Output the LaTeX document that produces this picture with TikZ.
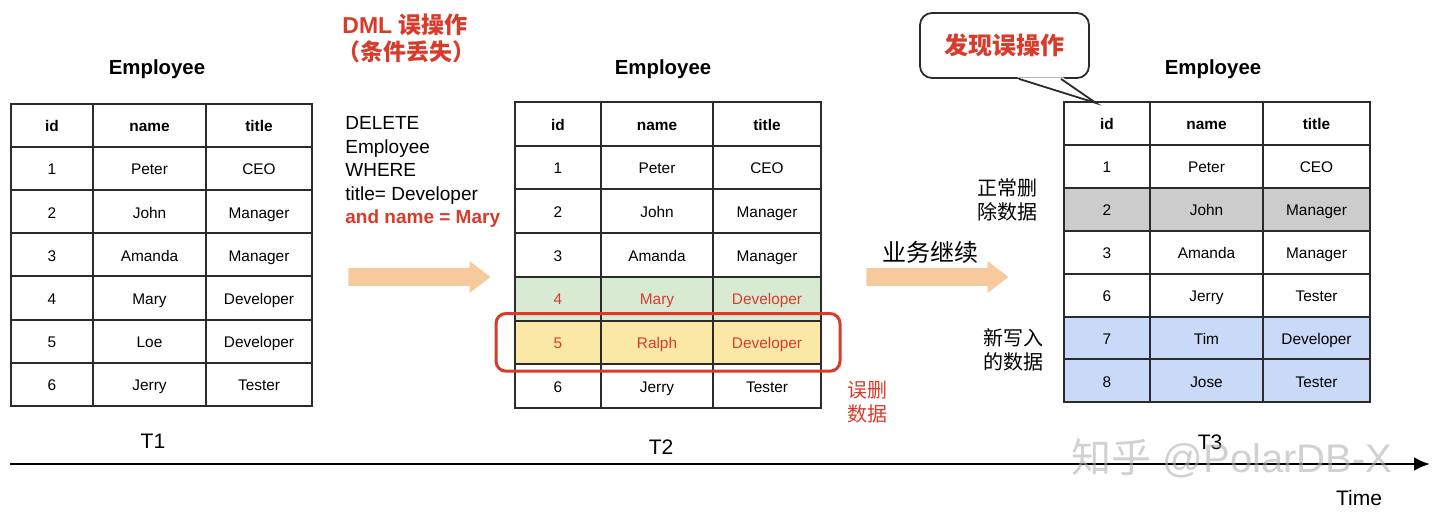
\documentclass[tikz,border=0pt]{standalone}
\usepackage{fontspec}
\setmainfont{Liberation Sans}
\newfontfamily\cjk{Noto Sans CJK SC}
\usetikzlibrary{positioning}
\usetikzlibrary{fit}
\usetikzlibrary{calc}
\usetikzlibrary{shapes.arrows}
\usetikzlibrary{arrows.meta}
\definecolor{errred}{HTML}{D93B2B}
\definecolor{gridline}{HTML}{2B2B2B}
\definecolor{rowgreen}{HTML}{D9EAD3}
\definecolor{rowyellow}{HTML}{FCE8A6}
\definecolor{rowgray}{HTML}{CCCCCC}
\definecolor{rowblue}{HTML}{C9DAF8}
\definecolor{arrowtan}{HTML}{F7CA9E}
\newcommand{\cellfont}{\fontsize{7.7}{9}\selectfont}
\tikzset{
    cell/.style={draw=gridline, line width=1pt, inner sep=0pt, font=\cellfont,
        text height=1.6ex, text depth=0.4ex},
    hdrrow/.style={font=\cellfont\bfseries},
    nrmrow/.style={},
    grnrow/.style={fill=rowgreen, text=errred},
    ylwrow/.style={fill=rowyellow, text=errred},
    gryrow/.style={fill=rowgray},
    blurow/.style={fill=rowblue},
    tabtitle/.style={font=\fontsize{10.2}{12}\selectfont\bfseries},
    timelabel/.style={font=\fontsize{10.5}{12}\selectfont},
    note/.style={font=\fontsize{10}{12}\selectfont\cjk, align=center},
    alarm/.style={font=\fontsize{11.5}{14}\selectfont\bfseries, text=errred},
    bigarrow/.style={single arrow, fill=arrowtan, draw=none, inner sep=4.25pt, anchor=tail,
        single arrow head extend=3.5pt, single arrow tip angle=75, minimum height=71pt},
    lostbox/.style={draw=errred, line width=1.5pt, rounded corners=5pt, inner xsep=9pt, inner ysep=3pt},
}
% #1 prefix, #2-#5 column edges, #6 top, #7 row height, #8 rows
\newcommand{\drawemp}[8]{%
    \foreach [count=\r from 0] \a/\b/\c/\st in {#8} {
        \node[cell, \st, minimum width={(#3-#2)*0.5pt}, minimum height={#7*0.5pt}]
            (#1-\r-1) at ({(#2+#3)/2}, {#6+(\r+0.5)*#7}) {\a};
        \node[cell, \st, minimum width={(#4-#3)*0.5pt}, minimum height={#7*0.5pt}]
            (#1-\r-2) at ({(#3+#4)/2}, {#6+(\r+0.5)*#7}) {\b};
        \node[cell, \st, minimum width={(#5-#4)*0.5pt}, minimum height={#7*0.5pt}]
            (#1-\r-3) at ({(#4+#5)/2}, {#6+(\r+0.5)*#7}) {\c};
    }%
}
\begin{document}
\begin{tikzpicture}[x=0.5pt, y=-0.5pt]
    \useasboundingbox (0,0) rectangle (1440,515);

    % T1: table before the mistake
    \node[tabtitle] (ta-title) at (157,69) {Employee};
    \drawemp{ta}{11}{93}{206}{312}{104}{43.1}{id/name/title/hdrrow, 1/Peter/CEO/nrmrow,
        2/John/Manager/nrmrow, 3/Amanda/Manager/nrmrow, 4/Mary/Developer/nrmrow,
        5/Loe/Developer/nrmrow, 6/Jerry/Tester/nrmrow}
    \node[timelabel] (t1) at (153,441) {T1};

    % the faulty statement
    \node[alarm] (dml) at (405,25) {DML \cjk 误操作};
    \node[alarm, font=\fontsize{11.5}{14}\selectfont\bfseries\cjk] (lost-cond) at (406,52) {（条件丢失）};
    \node[anchor=north west, align=left, inner sep=0pt, font=\fontsize{9.5}{11.75}\selectfont]
        (sql) at (345,116.5) {DELETE\\Employee\\WHERE\\title= Developer\\\textcolor{errred}{\bfseries and name = Mary}};
    \node[bigarrow] (go1) at (348,277) {};

    % T2: rows removed by mistake
    \node[tabtitle] (tb-title) at (663,69) {Employee};
    \drawemp{tb}{515}{601}{713}{821}{102}{43.7}{id/name/title/hdrrow, 1/Peter/CEO/nrmrow,
        2/John/Manager/nrmrow, 3/Amanda/Manager/nrmrow, 4/Mary/Developer/grnrow,
        5/Ralph/Developer/ylwrow, 6/Jerry/Tester/nrmrow}
    \node[lostbox, fit=(tb-5-1)(tb-5-3)] (lost) {};
    \node[note, text=errred] (lost-note) at (867,402) {误删\\数据};
    \node[timelabel] (t2) at (661,447) {T2};

    % business goes on
    \node[note, font=\fontsize{12}{14}\selectfont\cjk] (goon) at (930,252) {业务继续};
    \node[bigarrow] (go2) at (866,277) {};
    \node[note] (del-note) at (1007,200) {正常删\\除数据};
    \node[note] (new-note) at (1013,350) {新写入\\的数据};

    % T3: mistake found
    \node[tabtitle] (tc-title) at (1213,69) {Employee};
    \drawemp{tc}{1064}{1150}{1263}{1370}{102}{42.9}{id/name/title/hdrrow, 1/Peter/CEO/nrmrow,
        2/John/Manager/gryrow, 3/Amanda/Manager/nrmrow, 6/Jerry/Tester/nrmrow,
        7/Tim/Developer/blurow, 8/Jose/Tester/blurow}
    \node[timelabel] (t3) at (1210,442) {T3};

    % speech bubble
    \node[draw=gridline, line width=0.9pt, fill=white, rounded corners=6pt,
        minimum width=84.5pt, minimum height=32.5pt, text=errred,
        font=\fontsize{12}{14}\selectfont\bfseries\cjk] (find) at (1004.5,45.5) {发现误操作};
    \coordinate (tailtip) at (1096,103);
    \fill[white] ($(find.south)+(12.5,-1.5)$) -- ($(find.south)+(58.5,-1.5)$) -- (tailtip) -- cycle;
    \draw[gridline, line width=0.9pt] ($(find.south)+(14.5,0)$) -- (tailtip) -- ($(find.south)+(56.5,0)$);

    % time axis
    \coordinate (axis-start) at (10,464);
    \coordinate (axis-end) at (1430,464);
    \draw[line width=1.4pt, -{Latex[length=8pt, width=7pt]}] (axis-start) -- (axis-end);
    \node[timelabel] (time) at (1359,498) {Time};

    % watermark
    \node[text=gray!60, opacity=0.6, font=\fontsize{20}{24}\selectfont] (mark) at (1232,458) {{\cjk 知乎} @PolarDB-X};
\end{tikzpicture}
\end{document}
